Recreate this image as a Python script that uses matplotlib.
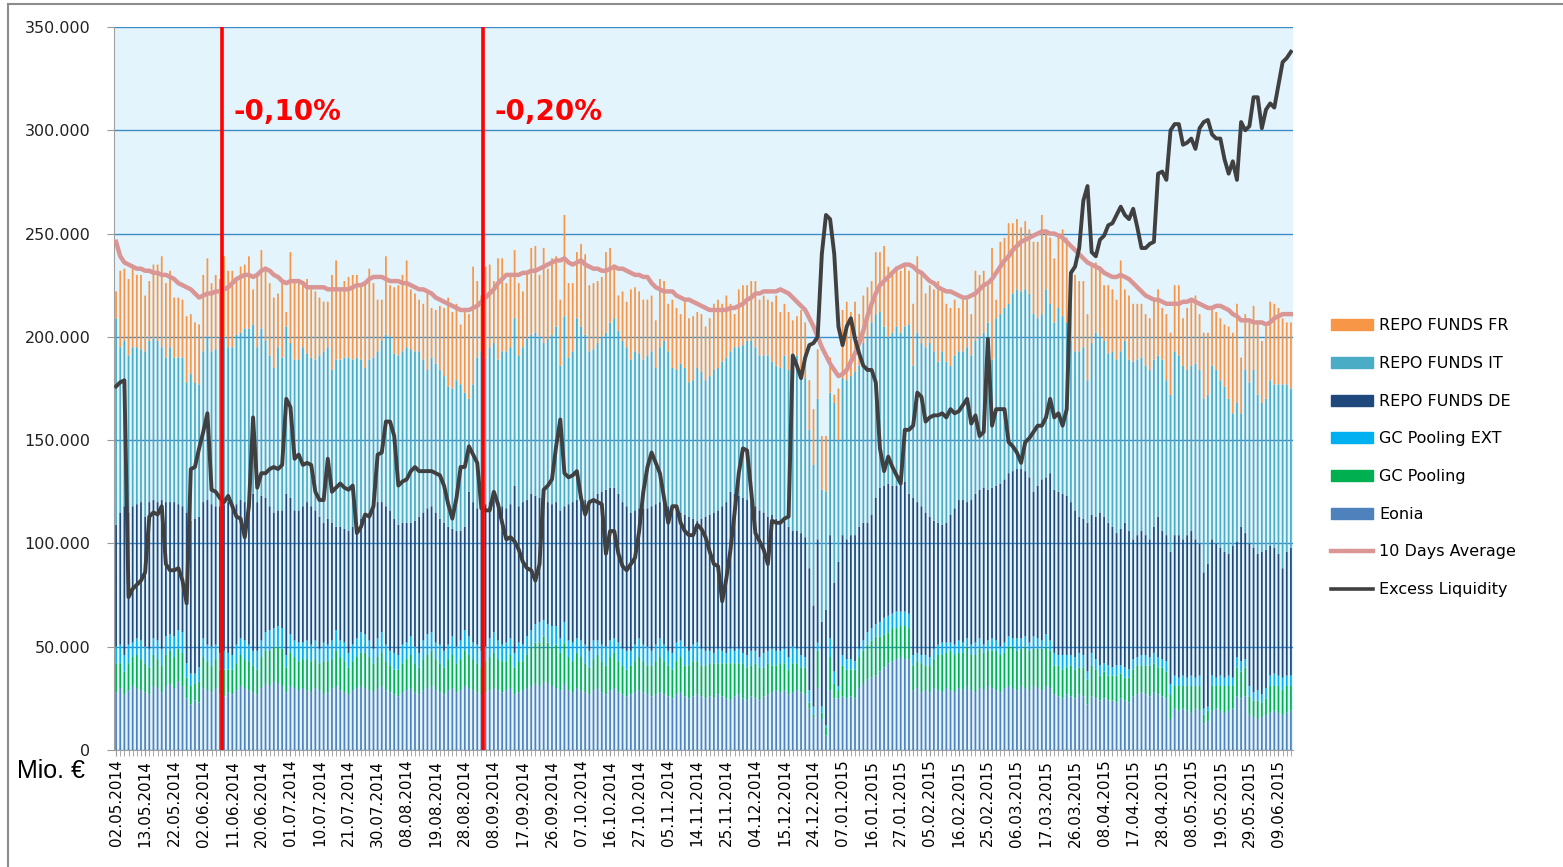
import numpy as np
import pandas as pd
import matplotlib
matplotlib.use("Agg")
import matplotlib.pyplot as plt
from matplotlib.lines import Line2D
from matplotlib.patches import Patch
from matplotlib.ticker import FuncFormatter, MultipleLocator

# Volumes in thousand Mio. EUR, one value per business day from 02.05.2014
eonia = [28, 30, 27, 29, 31, 30, 29, 28, 27, 31, 30, 28, 31, 32, 30, 33, 31, 25, 22, 24,
         23, 30, 29, 28, 30, 27, 26, 28, 27, 29, 31, 30, 29, 28, 27, 30, 32, 31, 33, 32,
         31, 28, 31, 30, 29, 30, 29,
         28, 30, 29, 27, 28, 30, 31, 29, 28, 27, 29, 30, 31, 30, 29, 28, 30, 31, 29, 28,
         27, 26, 28, 29, 30, 28, 27, 29, 30, 31, 29, 28, 27, 29, 30, 28, 29, 31, 30, 29,
         28, 27, 28, 29, 30, 29,
         28, 29, 30, 27, 28, 29, 30, 31, 32, 31, 33, 32, 31, 30, 29, 32, 29, 28, 30, 29,
         28, 27, 29, 30, 28, 27, 29, 30, 28, 27, 26, 27, 28, 29, 28, 27, 26, 27, 28, 27,
         26, 25, 27, 28, 26, 25, 26, 27, 26, 25,
         26, 25, 27, 26, 25, 24, 26, 27, 25, 24, 26, 25, 24, 26, 27, 28, 29, 28, 29, 27,
         28, 29, 28, 27, 20, 16, 30, 15, 7, 29, 25, 25, 26, 25, 26, 25, 30, 32, 34, 35,
         36, 38, 40, 42, 43, 44, 45, 44,
         44, 29, 30, 28, 29, 28, 30, 29, 28, 30, 29, 28, 30, 29, 31, 29, 28, 30, 29, 31,
         30, 29, 28, 30, 31, 30, 29, 31, 30, 29, 31, 30, 29, 31, 30, 27, 26, 25, 27, 26,
         25, 27, 26, 22, 26, 25, 24, 25, 24,
         24, 23, 25, 24, 23, 26, 27, 28, 27, 26, 28, 27, 26, 25, 15, 20, 19, 20, 19, 18,
         20, 19, 13, 14, 19, 20, 19, 18, 19, 20, 26, 25, 26, 17, 16, 15, 16, 17, 18, 19,
         18, 17, 18, 19]

gc_pooling = [14, 12, 11, 13, 14, 16, 15, 14, 13, 15, 14, 13, 15, 16, 15, 16, 16, 10, 9, 8,
              10, 15, 14, 13, 14, 12, 13, 11, 12, 13, 15, 14, 14, 13, 12, 15, 16, 17, 17, 18,
              18, 12, 16, 15, 14, 14, 15,
              15, 14, 13, 16, 15, 14, 17, 16, 15, 13, 14, 15, 16, 17, 16, 14, 15, 16, 14, 13,
              12, 13, 14, 15, 16, 14, 13, 15, 16, 17, 15, 14, 13, 15, 16, 14, 15, 17, 16, 15,
              14, 13, 15, 16, 17, 15,
              15, 14, 16, 13, 15, 14, 16, 19, 20, 21, 22, 20, 19, 21, 18, 20, 16, 15, 17, 16,
              14, 13, 15, 16, 15, 14, 16, 17, 15, 14, 13, 14, 15, 16, 15, 14, 15, 16, 17, 16,
              15, 14, 16, 17, 15, 16, 17, 16, 15, 16,
              16, 17, 15, 16, 17, 18, 16, 15, 17, 16, 15, 17, 16, 14, 15, 13, 12, 14, 13, 12,
              14, 13, 12, 13, 3, 1, 18, 3, 4, 16, 7, 4, 15, 14, 13, 14, 15, 16, 17, 18,
              19, 17, 16, 15, 16, 15, 15, 16,
              15, 12, 13, 14, 12, 13, 14, 17, 18, 17, 19, 18, 17, 18, 19, 17, 18, 19, 18, 17,
              18, 19, 18, 17, 19, 20, 19, 18, 20, 19, 18, 19, 20, 19, 18, 14, 15, 14, 13, 15,
              14, 13, 14, 12, 15, 14, 12, 13, 12,
              12, 13, 12, 11, 12, 13, 14, 13, 14, 15, 14, 13, 14, 13, 12, 11, 12, 11, 12, 13,
              11, 12, 4, 5, 12, 11, 12, 13, 12, 11, 14, 13, 14, 9, 8, 9, 7, 8, 13, 12,
              13, 12, 13, 12]

gc_pooling_ext = [8, 9, 8, 9, 7, 8, 9, 8, 9, 8, 9, 8, 9, 8, 10, 9, 10, 7, 6, 5,
                  7, 9, 8, 9, 7, 8, 9, 8, 7, 9, 8, 9, 8, 7, 9, 8, 9, 10, 9, 10,
                  10, 6, 9, 8, 9, 8, 9,
                  8, 9, 7, 9, 8, 9, 10, 8, 9, 7, 8, 9, 10, 9, 8, 7, 9, 10, 8, 7,
                  8, 7, 9, 8, 9, 8, 7, 9, 10, 9, 8, 9, 8, 7, 9, 8, 9, 10, 9, 8,
                  9, 8, 7, 9, 10, 9,
                  8, 9, 8, 7, 9, 8, 9, 8, 9, 10, 8, 9, 10, 9, 7, 10, 8, 9, 7, 8,
                  9, 8, 9, 7, 8, 9, 8, 7, 9, 8, 9, 7, 8, 9, 8, 9, 7, 8, 9, 8,
                  7, 8, 9, 8, 9, 7, 8, 9, 8, 7,
                  6, 5, 7, 6, 5, 7, 6, 7, 5, 6, 7, 6, 5, 7, 6, 8, 7, 6, 7, 6,
                  8, 7, 6, 5, 6, 4, 4, 3, 1, 9, 6, 2, 5, 5, 5, 4, 4, 5, 6, 6,
                  6, 7, 8, 8, 7, 8, 7, 7,
                  7, 5, 4, 4, 5, 4, 5, 5, 6, 5, 4, 5, 6, 5, 4, 5, 6, 5, 4, 5,
                  6, 5, 4, 5, 5, 4, 6, 5, 5, 4, 6, 5, 4, 6, 5, 6, 5, 7, 6, 5,
                  6, 7, 6, 4, 6, 5, 5, 4, 5,
                  4, 5, 4, 5, 4, 5, 4, 5, 5, 4, 5, 5, 4, 5, 5, 5, 4, 5, 4, 5,
                  4, 5, 3, 2, 5, 4, 5, 4, 5, 4, 5, 5, 4, 5, 4, 5, 4, 5, 5, 6,
                  5, 6, 5, 5]

repo_de = [59, 64, 72, 64, 66, 65, 67, 63, 71, 67, 67, 72, 65, 64, 65, 61, 61, 73, 74, 75,
           73, 66, 70, 69, 67, 71, 71, 73, 74, 68, 67, 67, 71, 76, 72, 70, 65, 60, 56, 56,
           57, 78, 66, 63, 64, 66, 67,
           67, 63, 64, 58, 61, 57, 50, 55, 55, 59, 57, 56, 55, 57, 62, 69, 66, 63, 67, 68,
           65, 63, 59, 58, 55, 61, 66, 62, 61, 61, 63, 61, 62, 57, 52, 56, 53, 50, 70, 68,
           66, 70, 69, 66, 64, 67,
           67, 65, 65, 81, 66, 69, 66, 66, 62, 60, 58, 59, 59, 60, 62, 56, 66, 68, 67, 69,
           70, 72, 69, 71, 74, 76, 74, 73, 72, 71, 70, 67, 65, 63, 66, 67, 70, 68, 66, 69,
           70, 70, 64, 62, 64, 65, 61, 59, 63, 65,
           66, 68, 67, 70, 73, 76, 76, 74, 75, 75, 72, 70, 71, 68, 65, 65, 64, 62, 63, 63,
           56, 57, 59, 58, 59, 49, 50, 41, 56, 50, 43, 60, 58, 58, 60, 61, 59, 57, 53, 55,
           61, 65, 64, 64, 62, 61, 62, 63,
           58, 76, 73, 72, 69, 68, 62, 59, 57, 58, 62, 66, 68, 69, 66, 70, 72, 72, 76, 73,
           73, 75, 79, 79, 79, 81, 82, 82, 80, 80, 70, 74, 78, 76, 81, 79, 79, 78, 77, 74,
           71, 66, 66, 72, 67, 69, 74, 71, 69,
           68, 64, 66, 70, 67, 58, 59, 60, 58, 57, 61, 68, 62, 61, 64, 68, 69, 66, 69, 70,
           67, 64, 66, 69, 66, 65, 62, 61, 59, 64, 56, 65, 61, 69, 70, 66, 69, 67, 63, 61,
           59, 53, 60, 62]

repo_it = [100, 80, 80, 76, 77, 76, 74, 80, 78, 78, 78, 74, 70, 75, 70, 71, 72, 63, 71, 66,
           64, 73, 79, 74, 76, 82, 81, 75, 75, 82, 81, 84, 82, 82, 75, 81, 76, 73, 70, 79,
           74, 81, 75, 73, 73, 77, 72,
           72, 73, 78, 83, 83, 74, 81, 81, 83, 84, 81, 80, 77, 72, 74, 72, 73, 78, 83, 84,
           80, 82, 83, 85, 84, 82, 80, 74, 67, 72, 72, 72, 71, 68, 68, 73, 71, 65, 45, 57,
           73, 75, 71, 75, 76, 69,
           75, 76, 76, 81, 73, 75, 78, 77, 79, 78, 76, 79, 82, 85, 70, 92, 71, 73, 88, 83,
           80, 73, 72, 73, 75, 76, 80, 82, 79, 78, 77, 74, 77, 75, 72, 74, 75, 66, 75, 78,
           75, 68, 68, 72, 71, 65, 67, 74, 71, 66,
           67, 69, 69, 70, 70, 68, 71, 72, 74, 77, 78, 77, 75, 76, 78, 74, 74, 75, 79, 76,
           83, 85, 79, 77, 67, 68, 68, 64, 57, 69, 87, 59, 76, 77, 77, 79, 78, 87, 90, 93,
           89, 85, 77, 71, 74, 77, 73, 75,
           82, 64, 82, 79, 80, 84, 82, 78, 84, 78, 72, 74, 72, 72, 75, 70, 74, 74, 75, 81,
           62, 81, 82, 83, 82, 86, 87, 86, 88, 89, 86, 81, 80, 91, 82, 81, 89, 86, 84, 78,
           77, 80, 83, 69, 83, 89, 85, 85, 82,
           85, 84, 86, 88, 83, 86, 85, 84, 82, 82, 81, 78, 83, 75, 76, 89, 87, 84, 80, 80,
           85, 84, 84, 82, 84, 84, 81, 80, 75, 64, 67, 55, 79, 78, 86, 77, 72, 73, 80, 79,
           82, 89, 81, 77]

repo_fr = [13, 37, 35, 37, 38, 35, 36, 27, 29, 36, 37, 44, 36, 37, 29, 29, 28, 32, 29, 29,
           29, 37, 38, 33, 36, 28, 39, 37, 37, 27, 32, 31, 35, 17, 35, 38, 36, 35, 34, 26,
           37, 7, 44, 39, 37, 30, 36,
           35, 33, 28, 24, 22, 46, 48, 33, 37, 39, 41, 40, 36, 41, 44, 36, 25, 20, 38, 25,
           32, 34, 37, 42, 29, 28, 25, 27, 37, 24, 26, 31, 33, 43, 37, 37, 29, 39, 41, 57,
           37, 27, 44, 40, 30, 49,
           45, 33, 35, 33, 35, 27, 31, 42, 42, 30, 46, 34, 37, 34, 32, 49, 36, 33, 32, 40,
           39, 32, 32, 30, 29, 39, 36, 26, 17, 24, 22, 34, 31, 30, 29, 27, 27, 23, 33, 29,
           23, 33, 30, 24, 32, 31, 31, 27, 28, 26,
           28, 32, 33, 28, 30, 23, 16, 28, 29, 27, 29, 32, 27, 29, 27, 29, 34, 27, 25, 28,
           19, 19, 29, 27, 24, 27, 24, 26, 27, 17, 4, 25, 33, 38, 31, 34, 25, 23, 24, 20,
           30, 29, 39, 34, 28, 29, 30, 29,
           26, 30, 37, 35, 26, 28, 30, 39, 30, 28, 28, 27, 21, 25, 23, 20, 34, 30, 30, 18,
           54, 9, 35, 34, 39, 34, 34, 31, 33, 31, 35, 37, 48, 29, 32, 31, 36, 42, 41, 34,
           37, 34, 32, 32, 37, 34, 34, 27, 33,
           30, 29, 44, 25, 31, 28, 27, 26, 25, 25, 29, 32, 25, 32, 30, 32, 34, 23, 30, 32,
           33, 27, 32, 30, 28, 28, 30, 30, 35, 39, 48, 27, 27, 29, 31, 35, 30, 35, 38, 39,
           37, 32, 30, 32]

avg_10d = [246, 239, 236, 235, 234, 233, 233, 232, 232, 231, 231, 230, 230, 229, 228, 226, 225, 224, 223, 221,
           219, 220, 221, 221, 222, 222, 223, 224, 226, 228, 229, 230, 230, 229, 230, 232, 233, 232, 230, 229,
           227, 226, 227, 227, 227, 226, 224, 224, 224, 224, 224, 223, 223, 223, 223, 223, 223, 224, 225, 225,
           226, 228, 229, 229, 229, 228, 227, 227, 227, 226, 226, 225, 224, 223, 223, 222, 221, 219, 218, 217,
           216, 215, 214, 213, 213, 213, 214, 215, 217, 219, 221, 223, 226, 228, 230, 230, 230, 230, 231, 231,
           232, 232, 233, 234, 235, 236, 237, 237, 238, 236, 235, 236, 237, 235, 234, 233, 233, 232, 232, 233,
           234, 233, 233, 232, 231, 230, 230, 229, 229, 226, 224, 223, 222, 222, 222, 220, 219, 218, 218, 217,
           216, 215, 214, 213, 213, 213, 213, 213, 214, 214, 215, 216, 218, 219, 221, 221, 222, 222, 222, 222,
           223, 222, 221, 219, 217, 215, 213, 209, 205, 200, 195, 191, 187, 184, 181, 182, 184, 188, 192, 197,
           203, 210, 216, 221, 225, 227, 229, 231, 233, 234, 235, 235, 234, 232, 231, 229, 227, 226, 224, 223,
           222, 222, 221, 220, 219, 219, 220, 221, 223, 225, 226, 228, 231, 234, 237, 239, 242, 244, 246, 247,
           248, 249, 250, 251, 251, 250, 250, 249, 248, 246, 244, 242, 240, 238, 236, 235, 234, 233, 231, 230,
           229, 229, 230, 229, 228, 226, 224, 222, 220, 219, 218, 218, 217, 216, 216, 216, 216, 217, 217, 218,
           217, 216, 215, 214, 214, 215, 215, 214, 213, 211, 210, 208, 208, 208, 207, 207, 207, 206, 207, 209,
           210, 211, 211, 211]

excess_liquidity = [176, 178, 179, 74, 78, 80, 82, 86, 113, 115, 114, 118, 90, 87, 87, 88, 82, 71, 136, 137,
                    146, 154, 163, 126, 125, 122, 120, 123, 118, 113, 112, 103, 118, 161, 127, 134, 134, 136, 137, 136,
                    138, 170, 166, 141, 143, 138, 139,
                    138, 125, 121, 121, 141, 125, 127, 129, 127, 126, 128, 105, 108, 114, 113, 118, 143, 144, 159, 159,
                    152, 128, 130, 131, 135, 137, 135, 135, 135, 135, 134, 133, 128, 119, 112, 122, 137, 137, 147, 143,
                    139, 117, 116, 116, 125, 119,
                    110, 102, 103, 101, 97, 91, 88, 87, 82, 90, 126, 128, 131, 147, 160, 134, 132, 133, 135, 122,
                    114, 120, 121, 120, 119, 95, 106, 106, 95, 89, 87, 90, 93, 106, 125, 137, 144, 139, 134, 122,
                    110, 118, 118, 110, 106, 104, 104, 109, 107, 103,
                    96, 90, 89, 72, 83, 97, 115, 134, 146, 145, 125, 105, 101, 97, 90, 111, 110, 110, 112, 113,
                    191, 186, 180, 190, 196, 197, 200, 240, 259, 257, 240, 205, 196, 205, 209, 199, 192, 186, 184, 184,
                    178, 146, 135, 142, 137, 133, 129, 155,
                    155, 157, 173, 171, 159, 161, 162, 162, 163, 161, 165, 163, 164, 167, 170, 158, 162, 152, 154, 199,
                    157, 165, 165, 165, 149, 147, 144, 139, 149, 151, 154, 157, 157, 161, 170, 161, 163, 157, 165, 231,
                    234, 243, 266, 273, 241, 239, 247, 249, 254,
                    255, 259, 263, 259, 257, 262, 253, 243, 243, 245, 246, 279, 280, 276, 300, 303, 303, 293, 294, 296,
                    291, 301, 304, 305, 298, 296, 296, 286, 279, 285, 276, 304, 300, 302, 316, 316, 301, 310, 313, 311,
                    322, 333, 335, 338]

# days without a fixing in the source series
no_fixing = ["2014-12-25", "2014-12-26", "2015-01-01", "2015-04-03", "2015-04-06",
             "2015-05-01", "2015-05-25"]
dates = pd.bdate_range("2014-05-02", periods=len(eonia), freq="C", holidays=no_fixing)

rate_cuts = [(25.5, "-0,10%"), (88.4, "-0,20%")]

series = [("Eonia", eonia, "#4F81BD"),
          ("GC Pooling", gc_pooling, "#00B050"),
          ("GC Pooling EXT", gc_pooling_ext, "#00B0F0"),
          ("REPO FUNDS DE", repo_de, "#1F497D"),
          ("REPO FUNDS IT", repo_it, "#4BACC6"),
          ("REPO FUNDS FR", repo_fr, "#F79646")]

k = 1000  # thousand Mio. -> Mio.
x = np.arange(len(dates))

fig = plt.figure(figsize=(15.63, 8.67), dpi=100)
ax = fig.add_axes([114 / 1563, 117 / 867, 1179 / 1563, 723 / 867])
ax.set_facecolor("#E4F4FC")

bottom = np.zeros(len(x))
for name, vals, col in series:
    v = np.array(vals, dtype=float) * k
    bars = ax.bar(x, v, 0.42, bottom=bottom, color=col, linewidth=0, zorder=2)
    for b in bars:
        b.set_snap(False)
    bottom += v

ax.plot(x, np.array(avg_10d) * k, color="#D99694", lw=3.2, zorder=3)
ax.plot(x, np.array(excess_liquidity) * k, color="#404040", lw=2.8, zorder=4)

for pos, lab in rate_cuts:
    ax.axvline(pos, color="#FF0000", lw=2.6, zorder=5)
    ax.text(pos + 2.7, 309000, lab, color="#FF0000", fontsize=20, fontweight="bold",
            va="center", ha="left", zorder=6)

ax.set_xlim(-0.5, len(x) - 0.5)
ax.set_ylim(0, 350000)
ax.yaxis.set_major_locator(MultipleLocator(50000))
ax.yaxis.set_major_formatter(FuncFormatter(lambda v, p: f"{int(v):,}".replace(",", ".")))
ax.grid(axis="y", color="#3C8DC5", lw=1.0, zorder=1)
ax.set_axisbelow(True)

ax.set_xticks(x[::7])
ax.set_xticklabels(dates[::7].strftime("%d.%m.%Y"), rotation=90)
ax.set_xticks(x, minor=True)
ax.tick_params(axis="x", which="both", length=4, color="#999999", labelsize=11, pad=3)
ax.tick_params(axis="y", length=5, color="#999999", labelsize=11.5, pad=12, labelcolor="#222222")

for s in ["top", "right"]:
    ax.spines[s].set_visible(False)
ax.spines["left"].set_color("#A0A0A0")
ax.spines["bottom"].set_color("#A0A0A0")

fig.text(17 / 1563, 1 - 771 / 867, "Mio. €", fontsize=18, family="Liberation Sans",
         va="center", ha="left")

handles = [Patch(color=c, label=n) for n, _, c in series[::-1]]
handles += [Line2D([], [], color="#D99694", lw=3.2, label="10 Days Average"),
            Line2D([], [], color="#404040", lw=2.6, label="Excess Liquidity")]
fig.legend(handles=handles, loc="upper left", bbox_to_anchor=(1325 / 1563, 1 - 312 / 867),
           frameon=False, fontsize=11.5, handlelength=2.6, handleheight=0.7,
           handletextpad=0.4, labelspacing=1.42, borderaxespad=0)

# frame around the picture
fig.add_artist(Line2D([8 / 1563, 1], [1 - 4 / 867, 1 - 4 / 867], color="#8C8C8C", lw=1.5))
fig.add_artist(Line2D([8 / 1563, 8 / 1563], [0, 1 - 4 / 867], color="#8C8C8C", lw=1.5))

fig.savefig("out.png", dpi=100)
